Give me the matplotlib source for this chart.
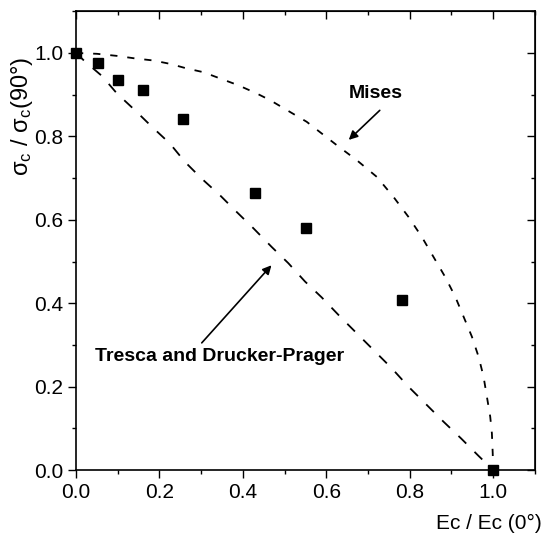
import matplotlib.pyplot as plt
from matplotlib.ticker import MultipleLocator

plt.rcParams['font.family'] = ['Liberation Sans', 'DejaVu Sans']
plt.rcParams['mathtext.fontset'] = 'custom'
plt.rcParams['mathtext.rm'] = 'Liberation Sans'
plt.rcParams['mathtext.it'] = 'Liberation Sans:italic'

# Datos experimentales
ec_ratio = [0.0, 0.053, 0.101, 0.161, 0.256, 0.429, 0.552, 0.781, 1.0]
sig_ratio = [1.0, 0.975, 0.934, 0.911, 0.842, 0.664, 0.581, 0.408, 0.0]

# Criterio de Mises
mises_x = [0.0, 0.05, 0.098, 0.141, 0.185, 0.225, 0.265, 0.305, 0.345, 0.388,
           0.433, 0.465, 0.553, 0.625, 0.673, 0.721, 0.761, 0.797, 0.829, 0.857,
           0.885, 0.909, 0.929, 0.949, 0.965, 0.977, 0.985, 0.993, 0.997, 0.999, 1.0]
mises_y = [1.0, 0.998, 0.993, 0.987, 0.982, 0.974, 0.963, 0.954, 0.939, 0.923,
           0.903, 0.887, 0.835, 0.779, 0.743, 0.703, 0.655, 0.607, 0.559, 0.511,
           0.463, 0.416, 0.368, 0.32, 0.272, 0.224, 0.176, 0.128, 0.088, 0.04, 0.0]

# Criterio de Tresca y Drucker-Prager
tresca_x = [0.0, 0.022, 0.062, 0.098, 0.141, 0.182, 0.225, 0.261, 0.301, 0.345,
            0.385, 0.425, 0.469, 0.509, 0.549, 0.589, 0.633, 0.677, 0.717, 0.757,
            0.797, 0.839, 0.881, 0.923, 0.965, 1.0]
tresca_y = [1.0, 0.979, 0.945, 0.903, 0.863, 0.823, 0.783, 0.739, 0.699, 0.659,
            0.619, 0.58, 0.535, 0.496, 0.452, 0.414, 0.368, 0.324, 0.284, 0.244,
            0.2, 0.158, 0.116, 0.076, 0.034, 0.0]

fig = plt.figure(figsize=(5.43, 5.36), dpi=100)
ax = fig.add_axes([0.140, 0.123, 0.845, 0.856])

ax.plot(mises_x, mises_y, color='black', lw=1.3, dashes=(4, 5.5))
ax.plot(tresca_x, tresca_y, color='black', lw=1.3, dashes=(6, 6.5))
ax.plot(ec_ratio, sig_ratio, 's', color='black', markersize=7.4, clip_on=False, zorder=5)

ax.text(0.719, 0.902, 'Mises', fontsize=14, fontweight='bold', ha='center', va='center')
ax.annotate('', xy=(0.649, 0.787), xytext=(0.733, 0.867),
            arrowprops=dict(arrowstyle='-|>', color='black', lw=1.2, mutation_scale=13))
ax.text(0.343, 0.273, 'Tresca and Drucker-Prager', fontsize=14, fontweight='bold',
        ha='center', va='center')
ax.annotate('', xy=(0.473, 0.496), xytext=(0.297, 0.3),
            arrowprops=dict(arrowstyle='-|>', color='black', lw=1.2, mutation_scale=13))

ax.set_xlim(0, 1.1)
ax.set_ylim(0, 1.1)
ax.xaxis.set_major_locator(MultipleLocator(0.2))
ax.xaxis.set_minor_locator(MultipleLocator(0.1))
ax.yaxis.set_major_locator(MultipleLocator(0.2))
ax.yaxis.set_minor_locator(MultipleLocator(0.1))
ax.xaxis.set_major_formatter(plt.FormatStrFormatter('%.1f'))
ax.yaxis.set_major_formatter(plt.FormatStrFormatter('%.1f'))

ax.tick_params(which='both', direction='out', labelsize=15, width=1, pad=3)
ax.tick_params(which='major', length=6)
ax.tick_params(which='minor', length=3)
ax2 = ax.secondary_xaxis('top')
ax2.xaxis.set_major_locator(MultipleLocator(0.2))
ax2.xaxis.set_minor_locator(MultipleLocator(0.1))
ax2.tick_params(which='both', direction='in', labeltop=False, width=1)
ax2.tick_params(which='major', length=6)
ax2.tick_params(which='minor', length=3)
ax3 = ax.secondary_yaxis('right')
ax3.yaxis.set_major_locator(MultipleLocator(0.2))
ax3.yaxis.set_minor_locator(MultipleLocator(0.1))
ax3.tick_params(which='both', direction='in', labelright=False, width=1)
ax3.tick_params(which='major', length=6)
ax3.tick_params(which='minor', length=3)

for s in ax.spines.values():
    s.set_linewidth(1.2)

fig.text(0.998, 0.024, 'Ec / Ec (0°)', fontsize=15, ha='right', va='center')
fig.text(0.040, 0.895, r'$\mathregular{\sigma_c\ /\ \sigma_c(90°)}$', fontsize=17,
         rotation=90, ha='center', va='top')

fig.savefig('out.png', dpi=100)
